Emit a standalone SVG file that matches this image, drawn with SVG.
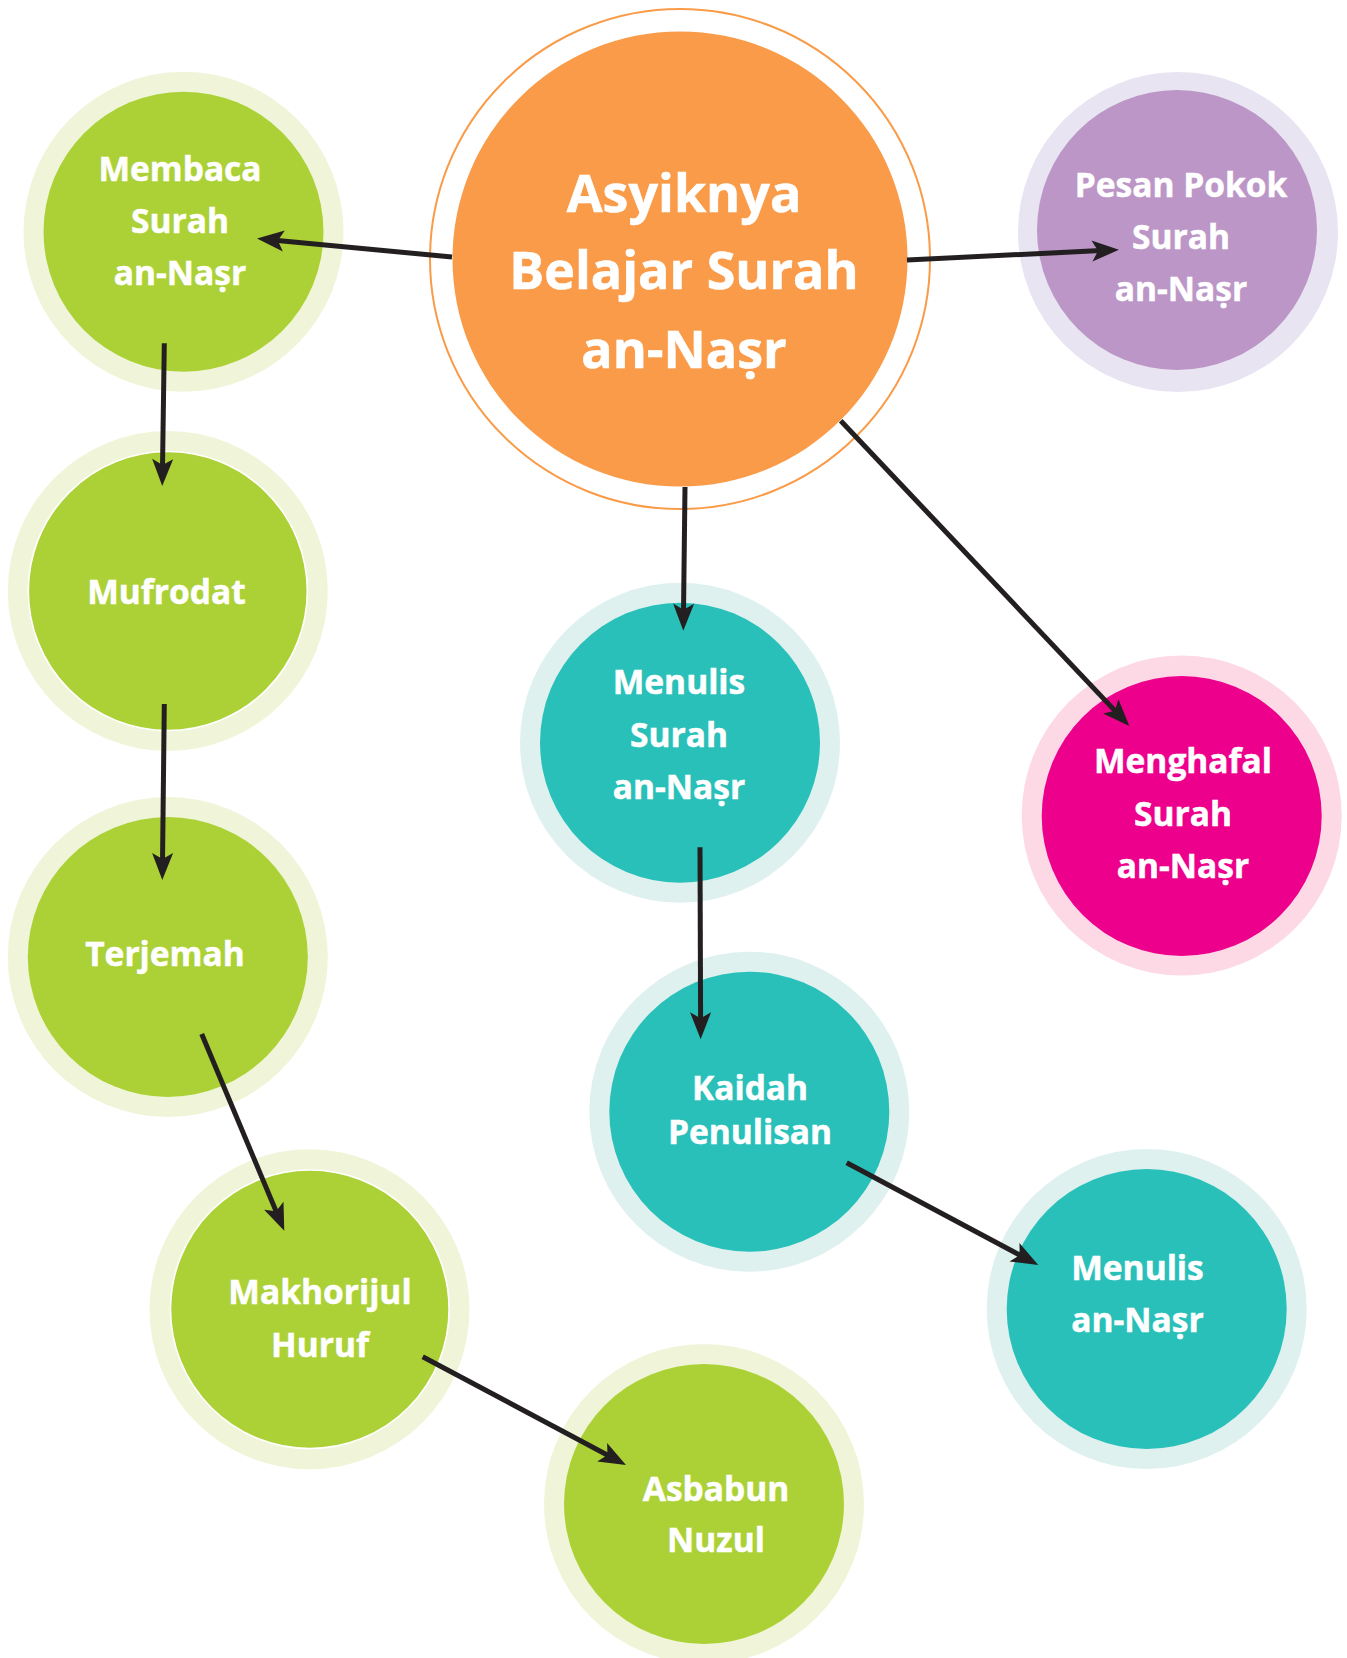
<svg xmlns="http://www.w3.org/2000/svg" width="1347" height="1658" viewBox="0 0 1347 1658">
<defs>
<style>
.t{font-family:"Open Sans","Noto Sans","Liberation Sans",sans-serif;font-weight:700;fill:#ffffff;stroke:#ffffff;stroke-width:0.5;text-anchor:middle;font-size:33.5px}
.tc{font-size:52px;stroke-width:0.6}
.g-o{fill:#F0F5D9}.g-i{fill:#ACD136}
.c-o{fill:#DEF1EF}.c-i{fill:#29C0B9}
.p-o{fill:#E8E4F2}.p-i{fill:#BB96C6}
.m-o{fill:#FDD9E6}.m-i{fill:#EC008C}
.ws{stroke:#ffffff;stroke-width:1.6}
.ln{stroke:#231F20;stroke-width:5;fill:none;marker-end:url(#ah)}
</style>
<marker id="ah" viewBox="-12 -12 32 24" refX="0" refY="0" markerWidth="32" markerHeight="24" markerUnits="userSpaceOnUse" orient="auto">
<path d="M18,0 L-9,-10.5 L-3,0 L-9,10.5 Z" fill="#231F20"/>
</marker>
</defs>
<rect width="1347" height="1658" fill="#ffffff"/>

<g id="node-central">
<circle cx="680" cy="259" r="250" fill="#ffffff" stroke="#F99B48" stroke-width="2"/>
<circle cx="680" cy="259" r="227.5" fill="#F99B48"/>
<text class="t tc" x="684" y="212">Asyiknya</text>
<text class="t tc" x="684" y="289">Belajar Surah</text>
<text class="t tc" x="684" y="368">an-Naṣr</text>
</g>

<g id="node-membaca">
<circle class="g-o" cx="183.5" cy="231.7" r="160"/>
<circle class="g-i" cx="183.5" cy="231.7" r="140"/>
<text class="t" x="180" y="180.7">Membaca</text>
<text class="t" x="180" y="233.3">Surah</text>
<text class="t" x="180" y="285">an-Naṣr</text>
</g>

<g id="node-pesan">
<circle class="p-o" cx="1178" cy="232" r="160"/>
<circle class="p-i" cx="1177" cy="230" r="140"/>
<text class="t" x="1181" y="197.3">Pesan Pokok</text>
<text class="t" x="1181" y="249">Surah</text>
<text class="t" x="1181" y="300.7">an-Naṣr</text>
</g>

<g id="node-mufrodat">
<circle class="g-o" cx="167.8" cy="591" r="160"/>
<circle class="g-i ws" cx="167.8" cy="591" r="139.5"/>
<text class="t" x="166.5" y="604">Mufrodat</text>
</g>

<g id="node-terjemah">
<circle class="g-o" cx="167.8" cy="957" r="160"/>
<circle class="g-i" cx="167.8" cy="957" r="140"/>
<text class="t" x="165" y="965.5">Terjemah</text>
</g>

<g id="node-makhorijul">
<circle class="g-o" cx="309.5" cy="1309.3" r="160"/>
<circle class="g-i ws" cx="309.8" cy="1309.3" r="139.3"/>
<text class="t" x="320" y="1304">Makhorijul</text>
<text class="t" x="320" y="1356.7">Huruf</text>
</g>

<g id="node-asbabun">
<circle class="g-o" cx="704" cy="1504" r="160"/>
<circle class="g-i" cx="704" cy="1504" r="140"/>
<text class="t" x="716" y="1500.7">Asbabun</text>
<text class="t" x="716" y="1551.7">Nuzul</text>
</g>

<g id="node-menulis-surah">
<circle class="c-o" cx="680" cy="742.7" r="160"/>
<circle class="c-i" cx="680" cy="742.7" r="140"/>
<text class="t" x="679" y="694.3">Menulis</text>
<text class="t" x="679" y="747.3">Surah</text>
<text class="t" x="679" y="799.3">an-Naṣr</text>
</g>

<g id="node-kaidah">
<circle class="c-o" cx="749.3" cy="1111.7" r="160"/>
<circle class="c-i" cx="749.3" cy="1111.7" r="140"/>
<text class="t" x="750" y="1100">Kaidah</text>
<text class="t" x="750" y="1144">Penulisan</text>
</g>

<g id="node-menulis-annasr">
<circle class="c-o" cx="1146.7" cy="1309" r="160"/>
<circle class="c-i" cx="1146.7" cy="1309" r="140"/>
<text class="t" x="1137.5" y="1280">Menulis</text>
<text class="t" x="1137.5" y="1331.7">an-Naṣr</text>
</g>

<g id="node-menghafal">
<circle class="m-o" cx="1181.7" cy="815.5" r="160"/>
<circle class="m-i" cx="1181.7" cy="816" r="140"/>
<text class="t" x="1183" y="773.3">Menghafal</text>
<text class="t" x="1183" y="826">Surah</text>
<text class="t" x="1183" y="878.3">an-Naṣr</text>
</g>

<g id="connectors">
<line class="ln" x1="452" y1="257" x2="274.9" y2="240.2"/>
<line class="ln" x1="907" y1="260" x2="1101" y2="250.6"/>
<line class="ln" x1="685" y1="487" x2="683.5" y2="612.7"/>
<line class="ln" x1="840.7" y1="420.7" x2="1117" y2="712.9"/>
<line class="ln" x1="164.3" y1="343.3" x2="162.5" y2="468"/>
<line class="ln" x1="164.3" y1="704" x2="162.5" y2="862"/>
<line class="ln" x1="201.7" y1="1034" x2="277.3" y2="1214.1"/>
<line class="ln" x1="422.7" y1="1356.7" x2="610.1" y2="1456.5"/>
<line class="ln" x1="700" y1="847.3" x2="700.6" y2="1021.3"/>
<line class="ln" x1="846.7" y1="1162.7" x2="1022.4" y2="1256.5"/>
</g>
</svg>
